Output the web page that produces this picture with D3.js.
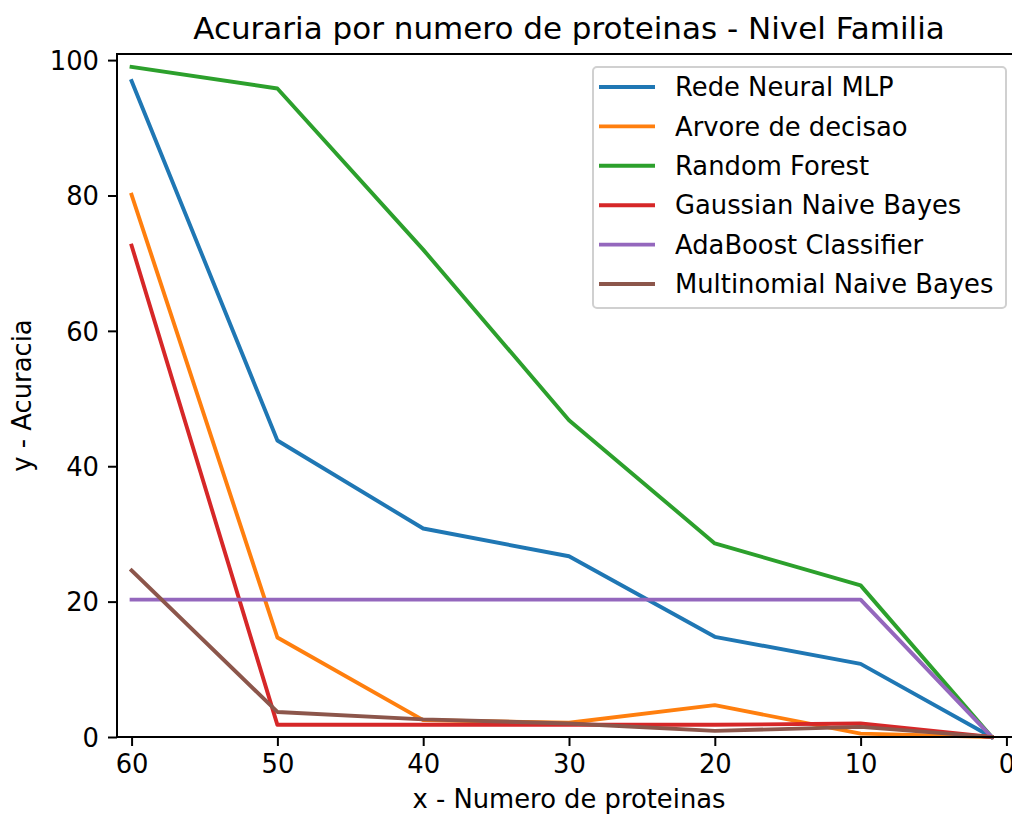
<!DOCTYPE html>
<html>
<head>
<meta charset="utf-8">
<script src="https://cdn.jsdelivr.net/npm/d3@7"></script>
<style>
  html, body { margin: 0; padding: 0; background: #fff; overflow: hidden; }
  svg { display: block; font-family: 'DejaVu Sans', sans-serif; }
</style>
</head>
<body>
<svg id="chart" width="1012" height="816"></svg>
<script>
// number of proteins on the x axis (reversed)
const proteinCounts = [60, 50, 40, 30, 20, 10, 1]

const seriesNames = [
  'Rede Neural MLP',
  'Arvore de decisao',
  'Random Forest',
  'Gaussian Naive Bayes',
  'AdaBoost Classifier',
  'Multinomial Naive Bayes'
]
const mlpValues = [96.9, 43.8, 30.8, 26.7, 14.8, 10.8, 0]
const treeValues = [80.1, 14.7, 2.5, 2.1, 4.7, 0.5, 0]
const forestValues = [99.0, 95.8, 72.0, 46.8, 28.6, 22.4, 0]
const gaussianValues = [72.6, 1.8, 1.8, 1.8, 1.8, 2.0, 0]
const adaboostValues = [20.3, 20.3, 20.3, 20.3, 20.3, 20.3, 0]
const multinomialValues = [24.6, 3.7, 2.6, 2.0, 0.9, 1.5, 0]

const xTicks = [60, 50, 40, 30, 20, 10, 0]
const yTicks = [0, 20, 40, 60, 80, 100]

const colors = ['#1f77b4', '#ff7f0e', '#2ca02c', '#d62728', '#9467bd', '#8c564b']
const allValues = [mlpValues, treeValues, forestValues, gaussianValues, adaboostValues, multinomialValues]

const svg = d3.select('#chart')
const plot = { left: 117, right: 1021, top: 54, bottom: 737 }
const fontPx = 25.8

const x = d3.scaleLinear().domain([61, -1]).range([plot.left, plot.right])
const y = d3.scaleLinear().domain([0, 100.9]).range([plot.bottom, plot.top])

// lines
const line = d3.line()
  .x((d, i) => x(proteinCounts[i]))
  .y(d => y(d))

const lines = svg.append('g')
allValues.forEach((vals, k) => {
  lines.append('path')
    .datum(vals)
    .attr('d', line)
    .attr('fill', 'none')
    .attr('stroke', colors[k])
    .attr('stroke-width', 3.9)
    .attr('stroke-linejoin', 'round')
    .attr('stroke-linecap', 'square')
})

// spines
svg.append('rect')
  .attr('x', plot.left)
  .attr('y', plot.top)
  .attr('width', plot.right - plot.left)
  .attr('height', plot.bottom - plot.top)
  .attr('fill', 'none')
  .attr('stroke', '#000')
  .attr('stroke-width', 2)

// axes
const xAxis = svg.append('g')
  .attr('transform', `translate(0,${plot.bottom})`)
  .call(d3.axisBottom(x).tickValues(xTicks).tickSize(9).tickPadding(9).tickFormat(d3.format('d')))
const yAxis = svg.append('g')
  .attr('transform', `translate(${plot.left},0)`)
  .call(d3.axisLeft(y).tickValues(yTicks).tickSize(9).tickPadding(9).tickFormat(d3.format('d')))

;[xAxis, yAxis].forEach(ax => {
  ax.select('.domain').remove()
  ax.selectAll('line').attr('stroke', '#000').attr('stroke-width', 2)
  ax.selectAll('text')
    .attr('fill', '#000')
    .style('font-family', "'DejaVu Sans', sans-serif")
    .style('font-size', `${fontPx}px`)
})
yAxis.selectAll('text').attr('dy', '0.36em')

// title and axis labels
svg.append('text')
  .attr('x', (plot.left + plot.right) / 2)
  .attr('y', 39)
  .attr('text-anchor', 'middle')
  .style('font-size', '31px')
  .text('Acuraria por numero de proteinas - Nivel Familia')

svg.append('text')
  .attr('x', (plot.left + plot.right) / 2)
  .attr('y', 808)
  .attr('text-anchor', 'middle')
  .style('font-size', `${fontPx}px`)
  .text('x - Numero de proteinas')

svg.append('text')
  .attr('transform', `translate(31,${(plot.top + plot.bottom) / 2}) rotate(-90)`)
  .attr('text-anchor', 'middle')
  .style('font-size', `${fontPx}px`)
  .text('y - Acuracia')

// legend
const legend = svg.append('g')
legend.append('rect')
  .attr('x', 593)
  .attr('y', 67)
  .attr('width', 413)
  .attr('height', 241)
  .attr('rx', 4)
  .attr('fill', 'rgba(255,255,255,0.8)')
  .attr('stroke', '#d0d0d0')
  .attr('stroke-width', 2)

const rowY = d3.scaleLinear().domain([0, 5]).range([87, 284])
seriesNames.forEach((name, k) => {
  legend.append('line')
    .attr('x1', 599)
    .attr('x2', 655)
    .attr('y1', rowY(k))
    .attr('y2', rowY(k))
    .attr('stroke', colors[k])
    .attr('stroke-width', 3.9)
  legend.append('text')
    .attr('x', 675)
    .attr('y', rowY(k))
    .attr('dy', '0.36em')
    .style('font-size', `${fontPx}px`)
    .attr('fill', '#000')
    .text(name)
})
</script>
</body>
</html>
